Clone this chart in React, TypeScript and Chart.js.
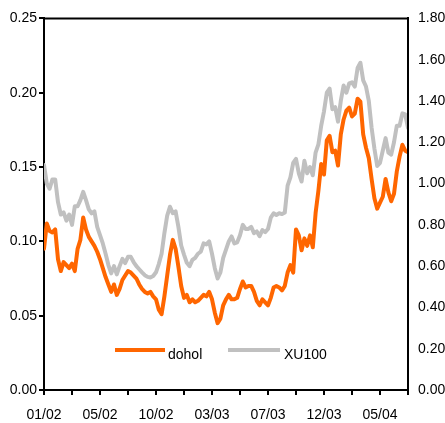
import React, { useEffect, useRef } from "react";
import { Chart, registerables } from "chart.js";

Chart.register(...registerables);

const xTickLabels = ["01/02", "05/02", "10/02", "03/03", "07/03", "12/03", "05/04"];
const seriesNames = ["dohol", "XU100"];

const dohol = [
  0.095, 0.112, 0.107, 0.106, 0.108, 0.088, 0.080, 0.086, 0.084, 0.082,
  0.085, 0.080, 0.095, 0.101, 0.116, 0.108, 0.103, 0.100, 0.097, 0.093,
  0.088, 0.082, 0.076, 0.071, 0.066, 0.071, 0.064, 0.068, 0.074, 0.077,
  0.080, 0.079, 0.077, 0.075, 0.071, 0.068, 0.066, 0.065, 0.066, 0.063,
  0.061, 0.054, 0.051, 0.063, 0.077, 0.091, 0.101, 0.095, 0.083, 0.070,
  0.062, 0.064, 0.059, 0.061, 0.059, 0.060, 0.062, 0.064, 0.063, 0.066,
  0.061, 0.052, 0.045, 0.048, 0.057, 0.061, 0.064, 0.061, 0.061, 0.062,
  0.068, 0.073, 0.069, 0.070, 0.070, 0.066, 0.060, 0.057, 0.061, 0.059,
  0.057, 0.062, 0.069, 0.070, 0.069, 0.067, 0.070, 0.079, 0.084, 0.079,
  0.108, 0.104, 0.094, 0.102, 0.097, 0.104, 0.096, 0.119, 0.134, 0.152,
  0.145, 0.168, 0.171, 0.160, 0.161, 0.151, 0.172, 0.182, 0.188, 0.190,
  0.184, 0.186, 0.196, 0.194, 0.172, 0.163, 0.156, 0.142, 0.129, 0.122,
  0.126, 0.130, 0.142, 0.133, 0.127, 0.132, 0.147, 0.157, 0.165, 0.161,
  0.160,
];

const xu100 = [
  1.09, 1.00, 0.975, 1.02, 1.02, 0.91, 0.85, 0.86, 0.82, 0.85,
  0.80, 0.89, 0.89, 0.92, 0.96, 0.92, 0.875, 0.856, 0.865, 0.79,
  0.75, 0.71, 0.66, 0.605, 0.565, 0.60, 0.56, 0.60, 0.635, 0.615,
  0.645, 0.645, 0.62, 0.60, 0.585, 0.57, 0.556, 0.548, 0.545, 0.552,
  0.57, 0.61, 0.66, 0.76, 0.845, 0.888, 0.856, 0.865, 0.79, 0.70,
  0.656, 0.616, 0.60, 0.63, 0.64, 0.66, 0.67, 0.71, 0.705, 0.72,
  0.66, 0.59, 0.54, 0.57, 0.64, 0.68, 0.72, 0.744, 0.71, 0.715,
  0.75, 0.80, 0.78, 0.78, 0.79, 0.76, 0.768, 0.745, 0.775, 0.765,
  0.78, 0.835, 0.856, 0.848, 0.856, 0.852, 0.86, 0.99, 1.03, 1.10,
  1.12, 1.05, 1.01, 1.11, 1.05, 1.08, 1.04, 1.15, 1.19, 1.28,
  1.35, 1.44, 1.46, 1.36, 1.37, 1.30, 1.40, 1.475, 1.44, 1.485,
  1.49, 1.47, 1.56, 1.585, 1.50, 1.47, 1.40, 1.27, 1.17, 1.085,
  1.10, 1.16, 1.22, 1.15, 1.14, 1.20, 1.28, 1.28, 1.34, 1.335,
  1.27,
];

const ORANGE = "#FF6600";
const GRAY = "#C0C0C0";
const FONT = "'Liberation Sans', Arial, sans-serif";

export default function App() {
  const ref = useRef<HTMLCanvasElement>(null);

  useEffect(() => {
    const canvas = ref.current;
    if (!canvas) return;

    const framePlugin = {
      id: "frame",
      afterDatasetsDraw(chart: any) {
        const { ctx, chartArea: a } = chart;
        ctx.save();
        ctx.strokeStyle = "#000";
        ctx.lineWidth = 2;
        ctx.beginPath();
        ctx.moveTo(a.left, a.top);
        ctx.lineTo(a.right, a.top);
        ctx.lineTo(a.right, a.bottom);
        ctx.stroke();
        ctx.restore();
      },
    };

    const legendPlugin = {
      id: "insideLegend",
      afterDraw(chart: any) {
        const { ctx, chartArea: a } = chart;
        const items = chart.data.datasets.map((d: any) => ({ label: d.label, color: d.borderColor }));
        const offsets = [
          { x0: 71, x1: 121, tx: 124 },
          { x0: 184, x1: 236, tx: 240 },
        ];
        const ly = a.bottom - 40;
        ctx.save();
        ctx.font = `14px ${FONT}`;
        ctx.textBaseline = "alphabetic";
        ctx.textAlign = "left";
        items.forEach((it: any, i: number) => {
          const o = offsets[i];
          ctx.strokeStyle = it.color;
          ctx.lineWidth = 4;
          ctx.lineCap = "butt";
          ctx.beginPath();
          ctx.moveTo(a.left + o.x0, ly);
          ctx.lineTo(a.left + o.x1, ly);
          ctx.stroke();
          ctx.fillStyle = "#000";
          ctx.fillText(it.label, a.left + o.tx, ly + 9);
        });
        ctx.restore();
      },
    };

    const chart = new Chart(canvas, {
      type: "line",
      data: {
        datasets: [
          {
            label: seriesNames[0],
            data: dohol.map((v, i) => ({ x: i, y: v })),
            yAxisID: "y",
            borderColor: ORANGE,
            backgroundColor: ORANGE,
            borderWidth: 4,
            pointRadius: 0,
            tension: 0,
            borderJoinStyle: "round",
            borderCapStyle: "round",
          },
          {
            label: seriesNames[1],
            data: xu100.map((v, i) => ({ x: i, y: v })),
            yAxisID: "y1",
            borderColor: GRAY,
            backgroundColor: GRAY,
            borderWidth: 4,
            pointRadius: 0,
            tension: 0,
            borderJoinStyle: "round",
            borderCapStyle: "round",
          },
        ],
      },
      options: {
        responsive: false,
        animation: false,
        layout: { padding: { top: 15, left: 0, right: 0, bottom: 0 } },
        font: { family: FONT, size: 14 },
        plugins: {
          legend: { display: false },
          tooltip: { enabled: false },
        },
        scales: {
          x: {
            type: "linear",
            min: 0,
            max: dohol.length - 1,
            ticks: {
              stepSize: 10,
              autoSkip: false,
              maxRotation: 0,
              padding: 12,
              color: "#000",
              font: { family: FONT, size: 14 },
              callback: (v: any) => {
                const n = Math.round(Number(v));
                return n % 20 === 0 ? xTickLabels[n / 20] ?? "" : "";
              },
            },
            grid: { drawOnChartArea: false, tickLength: 5, color: "#000", lineWidth: 2 },
            border: { color: "#000", width: 2 },
            afterFit: (s: any) => {
              s.height = 33;
            },
          },
          y: {
            position: "left",
            min: 0,
            max: 0.25,
            ticks: {
              stepSize: 0.05,
              padding: 2,
              color: "#000",
              font: { family: FONT, size: 14 },
              callback: (v: any) => Number(v).toFixed(2),
            },
            grid: { drawOnChartArea: false, tickLength: 5, color: "#000", lineWidth: 2 },
            border: { color: "#000", width: 2 },
            afterFit: (s: any) => {
              s.width = 44;
            },
          },
          y1: {
            position: "right",
            min: 0,
            max: 1.8,
            ticks: {
              stepSize: 0.2,
              padding: 10,
              color: "#000",
              font: { family: FONT, size: 14 },
              callback: (v: any) => Number(v).toFixed(2),
            },
            grid: { drawOnChartArea: false, drawTicks: false, color: "#000" },
            border: { color: "#000", width: 2 },
            afterFit: (s: any) => {
              s.width = 37;
            },
          },
        },
      },
      plugins: [framePlugin, legendPlugin],
    } as any);

    return () => chart.destroy();
  }, []);

  return (
    <div style={{ position: "fixed", left: 0, top: 0, width: 445, height: 423, background: "#fff" }}>
      <canvas ref={ref} width={445} height={423} style={{ display: "block" }} />
    </div>
  );
}
